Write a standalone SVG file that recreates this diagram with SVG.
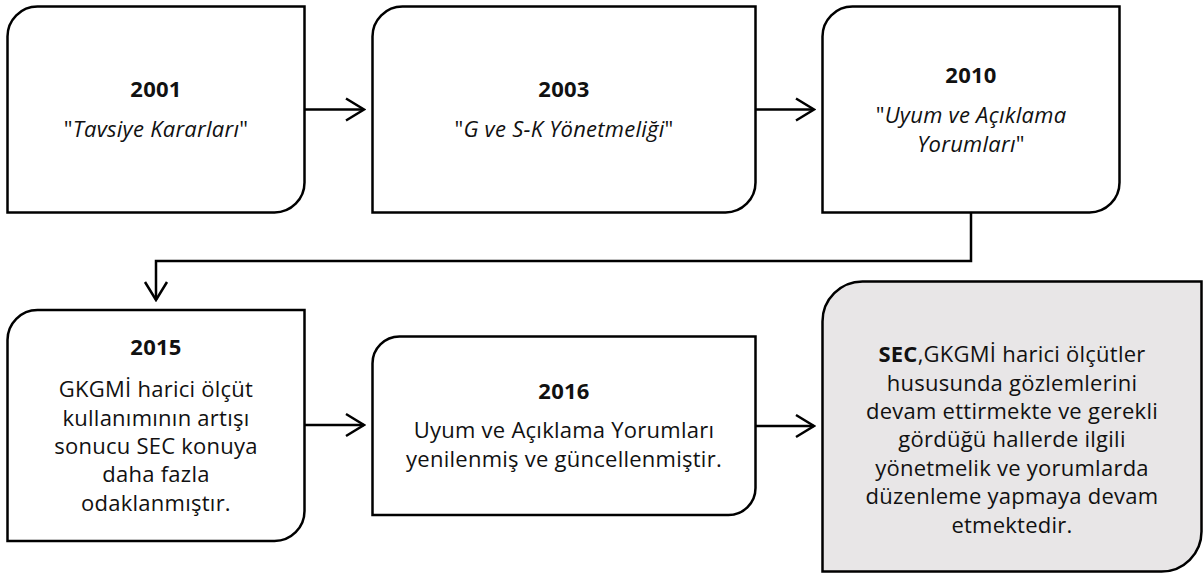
<svg xmlns="http://www.w3.org/2000/svg" width="1203" height="574" viewBox="0 0 1203 574">
<style>
.box{fill:#ffffff;stroke:#000000;stroke-width:2.5}
.grey{fill:#e8e6e7}
text{font-family:"Open Sans",Lato,"Liberation Sans",sans-serif;font-size:22px;letter-spacing:0.25px;fill:#111111;text-anchor:middle}
.yr{font-weight:bold}
.it{font-style:italic}
.q{font-style:normal}
.con{fill:none;stroke:#000000;stroke-width:2.5}
</style>
<defs>
<marker id="chev" viewBox="-22 -14 24 28" refX="0" refY="0" markerWidth="24" markerHeight="28" markerUnits="userSpaceOnUse" orient="auto">
<path d="M-18,-11 L0,0 L-18,11" fill="none" stroke="#000000" stroke-width="2.5"/>
</marker>
</defs>
<g id="connectors">
<path class="con" d="M304.5,109.5 H364" marker-end="url(#chev)"/>
<path class="con" d="M755.5,109.5 H814" marker-end="url(#chev)"/>
<path class="con" d="M971,212.5 V261 H156 V300" marker-end="url(#chev)"/>
<path class="con" d="M304.5,425 H364" marker-end="url(#chev)"/>
<path class="con" d="M755.5,426 H814" marker-end="url(#chev)"/>
</g>
<g id="n2001">
<path class="box" d="M37.5,6.5 H304.5 V182.5 A30,30 0 0 1 274.5,212.5 H7.5 V36.5 A30,30 0 0 1 37.5,6.5 Z"/>
<text x="156" y="97" class="yr">2001</text>
<text x="156" y="137"><tspan class="q">"</tspan><tspan class="it">Tavsiye Kararları</tspan><tspan class="q">"</tspan></text>
</g>
<g id="n2003">
<path class="box" d="M402.5,6.5 H755.5 V182.5 A30,30 0 0 1 725.5,212.5 H372.5 V36.5 A30,30 0 0 1 402.5,6.5 Z"/>
<text x="564" y="97" class="yr">2003</text>
<text x="564" y="137"><tspan class="q">"</tspan><tspan class="it">G ve S-K Yönetmeliği</tspan><tspan class="q">"</tspan></text>
</g>
<g id="n2010">
<path class="box" d="M852.5,6.5 H1119.5 V182.5 A30,30 0 0 1 1089.5,212.5 H822.5 V36.5 A30,30 0 0 1 852.5,6.5 Z"/>
<text x="971" y="83" class="yr">2010</text>
<text x="971" y="123"><tspan class="q">"</tspan><tspan class="it">Uyum ve Açıklama</tspan></text>
<text x="971" y="152"><tspan class="it">Yorumları</tspan><tspan class="q">"</tspan></text>
</g>
<g id="n2015">
<path class="box" d="M37.5,310 H304.5 V511 A30,30 0 0 1 274.5,541 H7.5 V340 A30,30 0 0 1 37.5,310 Z"/>
<text x="156" y="355" class="yr">2015</text>
<text x="156" y="397">GKGMİ harici ölçüt</text>
<text x="156" y="426">kullanımının artışı</text>
<text x="156" y="454">sonucu SEC konuya</text>
<text x="156" y="482">daha fazla</text>
<text x="156" y="511">odaklanmıştır.</text>
</g>
<g id="n2016">
<path class="box" d="M399.5,336.5 H755.5 V488 A27,27 0 0 1 728.5,515 H372.5 V363.5 A27,27 0 0 1 399.5,336.5 Z"/>
<text x="564" y="399" class="yr">2016</text>
<text x="564" y="438">Uyum ve Açıklama Yorumları</text>
<text x="564" y="467">yenilenmiş ve güncellenmiştir.</text>
</g>
<g id="nSEC">
<path class="box grey" d="M862.5,281.5 H1201.5 V531.5 A40,40 0 0 1 1161.5,571.5 H822.5 V321.5 A40,40 0 0 1 862.5,281.5 Z"/>
<text x="1012" y="362"><tspan class="yr">SEC</tspan>,GKGMİ harici ölçütler</text>
<text x="1012" y="391">hususunda gözlemlerini</text>
<text x="1012" y="419">devam ettirmekte ve gerekli</text>
<text x="1012" y="447">gördüğü hallerde ilgili</text>
<text x="1012" y="476">yönetmelik ve yorumlarda</text>
<text x="1012" y="504">düzenleme yapmaya devam</text>
<text x="1012" y="533">etmektedir.</text>
</g>
</svg>
